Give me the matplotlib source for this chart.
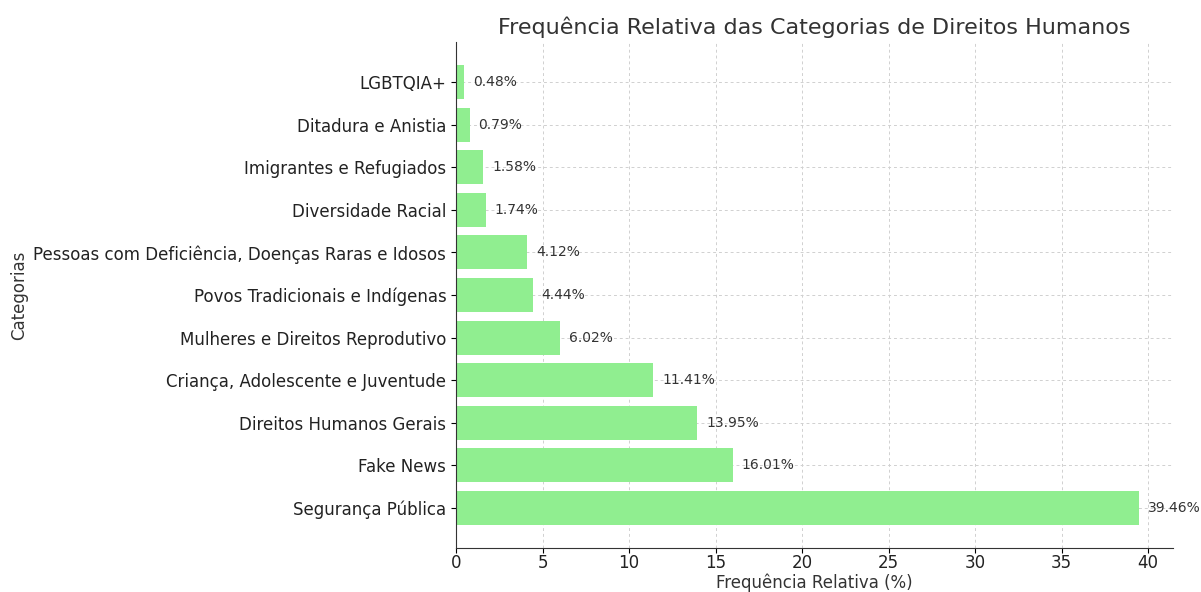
import matplotlib.pyplot as plt

categorias = [
    'Segurança Pública',
    'Fake News',
    'Direitos Humanos Gerais',
    'Criança, Adolescente e Juventude',
    'Mulheres e Direitos Reprodutivo',
    'Povos Tradicionais e Indígenas',
    'Pessoas com Deficiência, Doenças Raras e Idosos',
    'Diversidade Racial',
    'Imigrantes e Refugiados',
    'Ditadura e Anistia',
    'LGBTQIA+',
]
frequencias = [39.46, 16.01, 13.95, 11.41, 6.02, 4.44, 4.12, 1.74, 1.58, 0.79, 0.48]


def plot():
    fig, ax = plt.subplots(figsize=(12.01, 5.92), dpi=100)
    fig.subplots_adjust(left=0.3797, right=0.9767, top=0.929, bottom=0.0743)

    ax.barh(categorias, frequencias, color='lightgreen')

    # rotulos de porcentagem ao lado das barras
    for i, v in enumerate(frequencias):
        ax.text(v + 0.5, i, f'{v:.2f}%', va='center', ha='left',
                fontsize=10, color='#333333')

    ax.set_xlim(0, max(frequencias) * 1.05)
    ax.set_title('Frequência Relativa das Categorias de Direitos Humanos',
                 fontsize=16, color='#333333')
    ax.set_xlabel('Frequência Relativa (%)', fontsize=12, color='#333333',
                  labelpad=1)
    ax.set_ylabel('Categorias', fontsize=12, color='#333333')
    ax.tick_params(axis='both', labelsize=12, labelcolor='#222222')
    ax.tick_params(axis='x', pad=1)

    ax.grid(True, linestyle=(0, (3, 3)), color='#d0d0d0', linewidth=0.7)
    ax.set_axisbelow(True)
    ax.spines['top'].set_visible(False)
    ax.spines['right'].set_visible(False)
    ax.spines['left'].set_color('#333333')
    ax.spines['bottom'].set_color('#333333')

    plt.savefig('out.png', dpi=100)


if __name__ == '__main__':
    plot()
